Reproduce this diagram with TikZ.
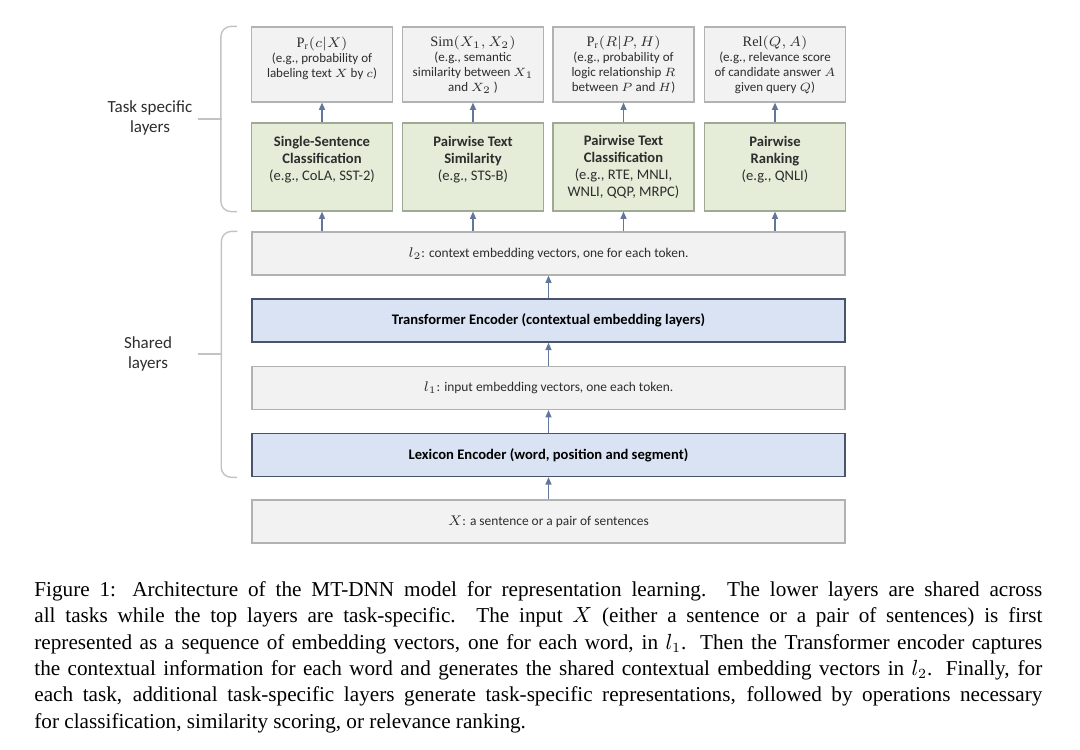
\documentclass[tikz,border=0pt]{standalone}
\usepackage{fontspec}
\setmainfont{Liberation Serif}
\newfontfamily\boxfont{Carlito}
\usetikzlibrary{arrows.meta,positioning,calc}
\definecolor{ink}{RGB}{45,45,45}
\definecolor{paleG}{RGB}{242,242,242}
\definecolor{lineG}{RGB}{178,178,178}
\definecolor{taskF}{RGB}{229,237,217}
\definecolor{taskL}{RGB}{160,168,150}
\definecolor{encF}{RGB}{218,227,243}
\definecolor{encL}{RGB}{72,84,108}
\definecolor{arrC}{RGB}{98,118,155}
\definecolor{brcC}{RGB}{195,195,195}
\tikzset{
  outbox/.style={draw=lineG,fill=paleG,line width=0.6pt,minimum width=70.5pt,minimum height=37.5pt,
    inner sep=0pt,align=center,text=ink,font=\boxfont\fontsize{6.5}{7.5}\selectfont},
  taskbox/.style={draw=taskL,fill=taskF,line width=0.6pt,minimum width=70.5pt,minimum height=44pt,
    inner sep=0pt,align=center,text=ink,font=\boxfont\fontsize{7.3}{8.6}\selectfont},
  layer/.style={draw=lineG,fill=paleG,line width=0.6pt,minimum width=296.5pt,minimum height=21.5pt,
    inner sep=0pt,text=ink,font=\boxfont\fontsize{6.7}{8}\selectfont},
  enc/.style={layer,draw=encL,fill=encF,line width=0.8pt,text=black,font=\boxfont\bfseries\fontsize{7.3}{8}\selectfont},
  side/.style={align=center,text=ink,font=\boxfont\fontsize{8.5}{10}\selectfont},
  arr/.style={-{Triangle[length=3.6pt,width=3pt]},draw=arrC,line width=0.6pt},
  brc/.style={draw=brcC,line width=0.7pt,rounded corners=5pt},
}
\newcommand{\fml}[1]{{\fontsize{7.2}{8}\selectfont$#1$}}

\begin{document}
\begin{tikzpicture}[x=0.5pt,y=-0.5pt]
\useasboundingbox (0,0) rectangle (1080,749);
% output layer
\node[outbox] (out1) at (322,64.5) {\fml{\mathrm{P_r}(c|X)}\\(e.g., probability of\\labeling text $X$ by $c$)\\\mbox{}};
\node[outbox] (out2) at (473,64.5) {\fml{\mathrm{Sim}(X_1,X_2)}\\(e.g., semantic\\similarity between $X_1$\\and $X_2$ )};
\node[outbox] (out3) at (623.5,64.5) {\fml{\mathrm{P_r}(R|P,H)}\\(e.g., probability of\\logic relationship $R$\\between $P$ and $H$)};
\node[outbox] (out4) at (775,64.5) {\fml{\mathrm{Rel}(Q,A)}\\(e.g., relevance score\\of candidate answer $A$\\given query $Q$)};
% task specific layers
\node[taskbox] (task1) at (322,167) {\textbf{Single-Sentence}\\\textbf{Classification}\\(e.g., CoLA, SST-2)\\\mbox{}};
\node[taskbox] (task2) at (473,167) {\textbf{Pairwise Text}\\\textbf{Similarity}\\(e.g., STS-B)\\\mbox{}};
\node[taskbox] (task3) at (623.5,167) {\textbf{Pairwise Text}\\\textbf{Classification}\\(e.g., RTE, MNLI,\\WNLI, QQP, MRPC)};
\node[taskbox] (task4) at (775,167) {\textbf{Pairwise}\\\textbf{Ranking}\\(e.g., QNLI)\\\mbox{}};
% shared layers
\node[layer] (ltwo) at (548.5,253.5) {$l_2$: context embedding vectors, one for each token.};
\node[enc] (trans) at (548.5,320.5) {Transformer Encoder (contextual embedding layers)};
\node[layer] (lone) at (548.5,388) {$l_1$: input embedding vectors, one each token.};
\node[enc] (lex) at (548.5,455) {Lexicon Encoder (word, position and segment)};
\node[layer] (inp) at (548.5,521.5) {$X$: a sentence or a pair of sentences};
% arrows
\draw[arr] (inp) -- (lex);
\draw[arr] (lex) -- (lone);
\draw[arr] (lone) -- (trans);
\draw[arr] (trans) -- (ltwo);
\draw[arr] (ltwo.north -| task1) -- (task1);
\draw[arr] (ltwo.north -| task2) -- (task2);
\draw[arr] (ltwo.north -| task3) -- (task3);
\draw[arr] (ltwo.north -| task4) -- (task4);
\draw[arr] (task1) -- (out1);
\draw[arr] (task2) -- (out2);
\draw[arr] (task3) -- (out3);
\draw[arr] (task4) -- (out4);
% braces and side labels
\draw[brc] ($(out1.north west)+(-14,0)$) -- ($(out1.north west)+(-30,0)$) -- ($(task1.south west)+(-30,0)$) -- ($(task1.south west)+(-14,0)$);
\draw[brc] (222,119) -- (198,119);
\node[side] (tsl) at (150,118) {Task specific\\layers};
\draw[brc] ($(ltwo.north west)+(-14,0)$) -- ($(ltwo.north west)+(-30,0)$) -- ($(lex.south west)+(-30,0)$) -- ($(lex.south west)+(-14,0)$);
\draw[brc] (222,354) -- (198,354);
\node[side] (shl) at (148,354) {Shared\\layers};
% caption
\node[anchor=north west,inner sep=0pt,text width=504pt,align=justify,
  font=\fontsize{10.6}{13.2}\selectfont] (cap) at (34,581)
  {Figure 1: Architecture of the MT-DNN model for representation learning. The lower layers are shared across\linebreak
   all tasks while the top layers are task-specific. The input $X$ (either a sentence or a pair of sentences) is first\linebreak
   represented as a sequence of embedding vectors, one for each word, in $l_1$. Then the Transformer encoder captures\linebreak
   the contextual information for each word and generates the shared contextual embedding vectors in $l_2$. Finally, for\linebreak
   each task, additional task-specific layers generate task-specific representations, followed by operations necessary\linebreak
   for classification, similarity scoring, or relevance ranking.};
\end{tikzpicture}
\end{document}
